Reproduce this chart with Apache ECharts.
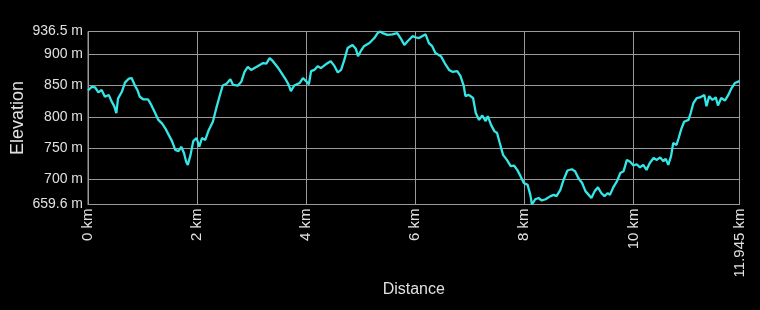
<!DOCTYPE html>
<html>
<head>
<meta charset="utf-8">
<style>
html,body{margin:0;padding:0;background:#000;}
#chart{width:760px;height:310px;}
</style>
<script src="https://cdn.jsdelivr.net/npm/echarts@6/dist/echarts.min.js"></script>
</head>
<body>
<div id="chart"></div>
<script>
var distKm = [0, 0.07, 0.13, 0.19, 0.25, 0.31, 0.38, 0.43, 0.48, 0.52, 0.55, 0.62, 0.68, 0.75, 0.80, 0.86, 0.91, 0.95, 1.01, 1.10, 1.16, 1.22, 1.29, 1.36, 1.42, 1.48, 1.54, 1.60, 1.66, 1.71, 1.76, 1.80, 1.83, 1.88, 1.93, 1.99, 2.04, 2.09, 2.15, 2.21, 2.29, 2.35, 2.41, 2.47, 2.54, 2.61, 2.66, 2.75, 2.81, 2.87, 2.93, 2.99,
  3.02, 3.11, 3.21, 3.27, 3.33, 3.39, 3.48, 3.57, 3.63, 3.68, 3.72, 3.78, 3.88, 3.94, 4.00, 4.05, 4.09, 4.15, 4.21, 4.27, 4.36, 4.45, 4.52, 4.58, 4.64, 4.70, 4.76, 4.85, 4.91, 4.95, 5.00, 5.06, 5.16, 5.25, 5.31, 5.36, 5.40, 5.49, 5.58, 5.67, 5.73, 5.80, 5.86, 5.95, 6.01,
  6.07, 6.19, 6.25, 6.31, 6.37, 6.47, 6.54, 6.62, 6.68, 6.77, 6.83, 6.89, 6.92, 6.98, 7.06, 7.11, 7.17, 7.23, 7.29, 7.33, 7.39, 7.45, 7.50, 7.55, 7.61, 7.68, 7.75, 7.81, 7.87, 7.93, 7.99, 8.06, 8.11, 8.14, 8.20, 8.26, 8.32, 8.39, 8.48, 8.54, 8.59, 8.66, 8.72, 8.79, 8.87, 8.93, 8.99,
  9.06, 9.12, 9.18, 9.23, 9.29, 9.35, 9.41, 9.47, 9.53, 9.57, 9.63, 9.70, 9.76, 9.82, 9.88, 9.94, 10.00, 10.06, 10.12, 10.18, 10.24, 10.30, 10.37, 10.43, 10.49, 10.55, 10.59, 10.64, 10.69, 10.73, 10.79, 10.83, 10.88, 10.93, 11.01, 11.05, 11.10, 11.16, 11.22, 11.30, 11.34, 11.39, 11.45, 11.51, 11.55, 11.61, 11.68, 11.74, 11.80, 11.86, 11.945];
var elevM = [842, 848, 847, 839, 843, 832, 835, 825, 817, 806, 829, 840, 855, 861, 862, 850, 842, 832, 828, 828, 819, 808, 795, 789, 781, 771, 761, 747, 745, 752, 742, 728, 723, 739, 761, 766, 752, 766, 763, 778, 792, 813, 832, 850, 853, 860, 851, 850, 856, 872, 880, 875,
  874, 881, 886, 885, 894, 889, 879, 867, 859, 851, 841, 850, 854, 862, 857, 852, 873, 875, 881, 878, 884, 889, 881, 871, 875, 891, 910, 915, 909, 897, 905, 913, 918, 926, 934, 936.5, 934, 931, 932, 934, 926, 915, 921, 929, 927,
  926, 932, 918, 913, 902, 897, 886, 875, 872, 873, 865, 849, 833, 835, 830, 806, 795, 802, 793, 801, 787, 777, 774, 758, 739, 731, 721, 722, 715, 705, 694, 691, 675, 659.6, 668, 670, 666, 668, 673, 675, 673, 683, 699, 714, 716, 713, 702,
  694, 681, 675, 670, 681, 687, 678, 673, 678, 675, 687, 697, 710, 713, 731, 728, 722, 724, 719, 723, 715, 726, 734, 731, 735, 729, 733, 723, 737, 758, 755, 766, 781, 792, 795, 806, 822, 830, 831, 835, 817, 833, 827, 831, 818, 830, 826, 835, 846, 854, 857];

var yMin = 659.6, yMax = 936.5;
var xMax = 11.945;

var pts = distKm.map(function (d, i) { return [d, elevM[i]]; });

var chart = echarts.init(document.getElementById('chart'), null, {renderer: 'canvas'});
var font = '"Liberation Sans", Arial, sans-serif';
chart.setOption({
  backgroundColor: '#000',
  animation: false,
  grid: {left: 88, right: 20.5, top: 31.5, bottom: 105.5, containLabel: false, outerBoundsMode: 'none',
    show: true, borderColor: '#9a9a9a', borderWidth: 1},
  xAxis: {
    type: 'value', min: 0, max: xMax, interval: 2,
    name: 'Distance', nameLocation: 'middle', nameGap: 77, nameMoveOverlap: false,
    nameTextStyle: {color: '#e0e0e0', fontSize: 16, fontFamily: font},
    axisLine: {show: true, lineStyle: {color: '#9a9a9a'}},
    axisTick: {show: false},
    splitLine: {show: true, lineStyle: {color: '#9a9a9a', width: 1}},
    axisLabel: {color: '#e0e0e0', fontSize: 15, fontFamily: font, rotate: 90, margin: 4,
      verticalAlign: 'middle',
      showMinLabel: true, showMaxLabel: true,
      formatter: function (v) { return v + ' km'; }}
  },
  yAxis: {
    type: 'value', min: yMin, max: yMax, splitNumber: 5,
    name: 'Elevation', nameLocation: 'middle', nameGap: 61, nameMoveOverlap: false,
    nameTextStyle: {color: '#e0e0e0', fontSize: 18, fontFamily: font},
    axisLine: {show: true, lineStyle: {color: '#9a9a9a'}},
    axisTick: {show: false},
    splitLine: {show: true, lineStyle: {color: '#9a9a9a', width: 1}},
    axisLabel: {color: '#e0e0e0', fontSize: 14, fontFamily: font, margin: 5,
      showMinLabel: true, showMaxLabel: true,
      formatter: function (v) { return v + ' m'; }}
  },
  series: [{
    type: 'line', data: pts, showSymbol: false, smooth: false,
    lineStyle: {color: '#35e6e6', width: 2.3},
    itemStyle: {color: '#35e6e6'}
  }]
});
</script>
</body>
</html>
